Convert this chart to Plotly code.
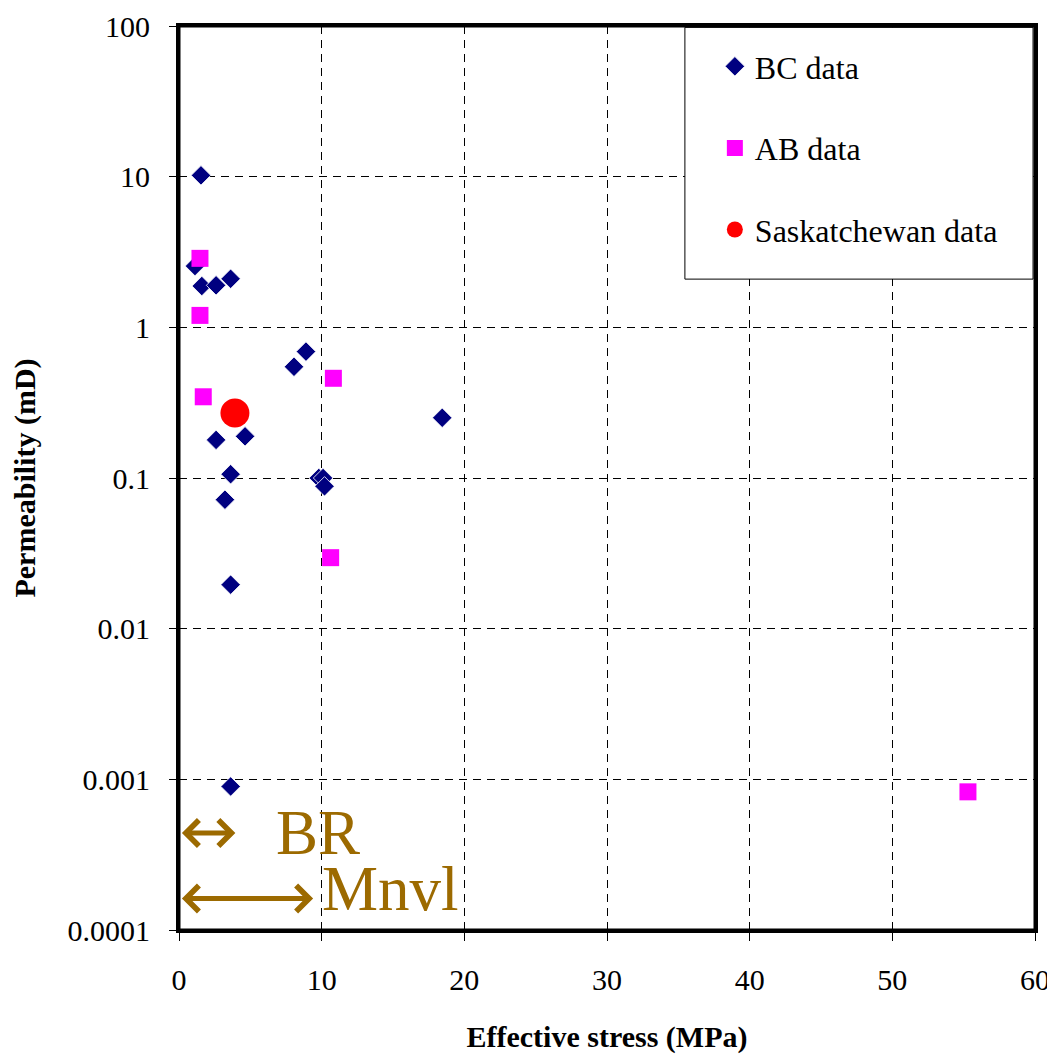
import plotly.graph_objects as go
import math

# ---- data ----
bc_stress = [1.54, 1.12, 1.6, 2.6, 3.62, 8.06, 8.9, 18.45, 2.6, 4.63, 3.62, 3.22, 3.62, 3.62, 9.8, 10.1, 10.2]
bc_perm = [10.2, 2.55, 1.88, 1.9, 2.1, 0.547, 0.69, 0.251, 0.179, 0.189, 0.106, 0.0718, 0.0196, 0.000897, 0.1, 0.1, 0.088]

ab_stress = [1.47, 1.47, 1.7, 10.82, 10.63, 55.3]
ab_perm = [2.87, 1.2, 0.346, 0.459, 0.0296, 0.000826]

sask_stress = [3.92]
sask_perm = [0.27]

x_tickvals = [0, 10, 20, 30, 40, 50, 60]
y_tickvals = [0.0001, 0.001, 0.01, 0.1, 1, 10, 100]
y_ticktext = ["0.0001", "0.001", "0.01", "0.1", "1", "10", "100"]

br_range = [0.1, 3.95]
br_level = 0.00044
br_text_x = 6.65
mnvl_range = [0.1, 9.4]
mnvl_level = 0.000162
mnvl_text_x = 9.9
mnvl_text_level = 0.000186

SERIF = "Liberation Serif, Times New Roman, serif"
BROWN = "#9C6A00"

fig = go.Figure()
fig.add_trace(go.Scatter(
    x=bc_stress, y=bc_perm, mode="markers", name="BC data", legendgroup="a",
    marker=dict(symbol="diamond", size=15, color="#000080", line=dict(color="white", width=0.8)),
))
fig.add_trace(go.Scatter(
    x=ab_stress, y=ab_perm, mode="markers", name="AB data", legendgroup="b",
    marker=dict(symbol="square", size=17, color="#FF00FF"),
))
fig.add_trace(go.Scatter(
    x=sask_stress, y=sask_perm, mode="markers", name="Saskatchewan data", legendgroup="c",
    marker=dict(symbol="circle", size=29, color="#FF0000"),
))

# double-headed arrows
for rng, lvl in [(br_range, br_level), (mnvl_range, mnvl_level)]:
    fig.add_annotation(
        x=rng[1], y=math.log10(lvl), ax=rng[0], ay=math.log10(lvl),
        xref="x", yref="y", axref="x", ayref="y",
        text="", showarrow=True, arrowside="end+start",
        arrowhead=4, startarrowhead=4, arrowsize=1, startarrowsize=1,
        arrowwidth=5, arrowcolor=BROWN, standoff=0, startstandoff=0,
    )

fig.add_annotation(x=br_text_x, y=math.log10(br_level), xref="x", yref="y", text="BR",
                   showarrow=False, xanchor="left", yanchor="middle",
                   font=dict(family=SERIF, size=63, color=BROWN))
fig.add_annotation(x=mnvl_text_x, y=math.log10(mnvl_text_level), xref="x", yref="y", text="Mnvl",
                   showarrow=False, xanchor="left", yanchor="middle",
                   font=dict(family=SERIF, size=63, color=BROWN))

# legend frame
fig.add_shape(type="rect", xref="paper", yref="paper",
              x0=0.591, x1=0.9977, y0=0.720, y1=0.9985,
              line=dict(color="black", width=1), fillcolor="white", layer="above")
# plot frame
fig.add_shape(type="rect", xref="paper", yref="paper",
              x0=0, x1=1, y0=0, y1=1,
              line=dict(color="black", width=3), fillcolor="rgba(0,0,0,0)", layer="above")

axis_common = dict(
    showline=True, linecolor="black", linewidth=3, mirror=True,
    showgrid=True, gridcolor="black", gridwidth=1, griddash="8px,6px",
    ticks="outside", tickcolor="black", tickwidth=1,
    zeroline=False, automargin=False, ticklabeloverflow="allow",
    tickfont=dict(family=SERIF, size=30, color="black"),
)

fig.update_xaxes(
    **axis_common, range=[0, 60], tickvals=x_tickvals, ticklen=8, ticklabelstandoff=13,
    title=dict(text="<b>Effective stress (MPa)</b>", standoff=42,
               font=dict(family=SERIF, size=30, color="black")),
)
fig.update_yaxes(
    **axis_common, type="log", range=[-4, 2], tickvals=y_tickvals, ticktext=y_ticktext,
    ticklen=7, ticklabelstandoff=13,
    title=dict(text="<b>Permeability (mD)</b>", standoff=60,
               font=dict(family=SERIF, size=30, color="black")),
)

fig.update_layout(
    width=1047, height=1046,
    margin=dict(l=171, r=20, t=18, b=124),
    paper_bgcolor="white", plot_bgcolor="white",
    showlegend=True,
    legend=dict(
        x=0.626, y=0.9856, xanchor="left", yanchor="top",
        bgcolor="rgba(0,0,0,0)", borderwidth=0,
        font=dict(family=SERIF, size=32, color="black"),
        tracegroupgap=37, itemwidth=30,
    ),
)

fig.write_html("out.html")
